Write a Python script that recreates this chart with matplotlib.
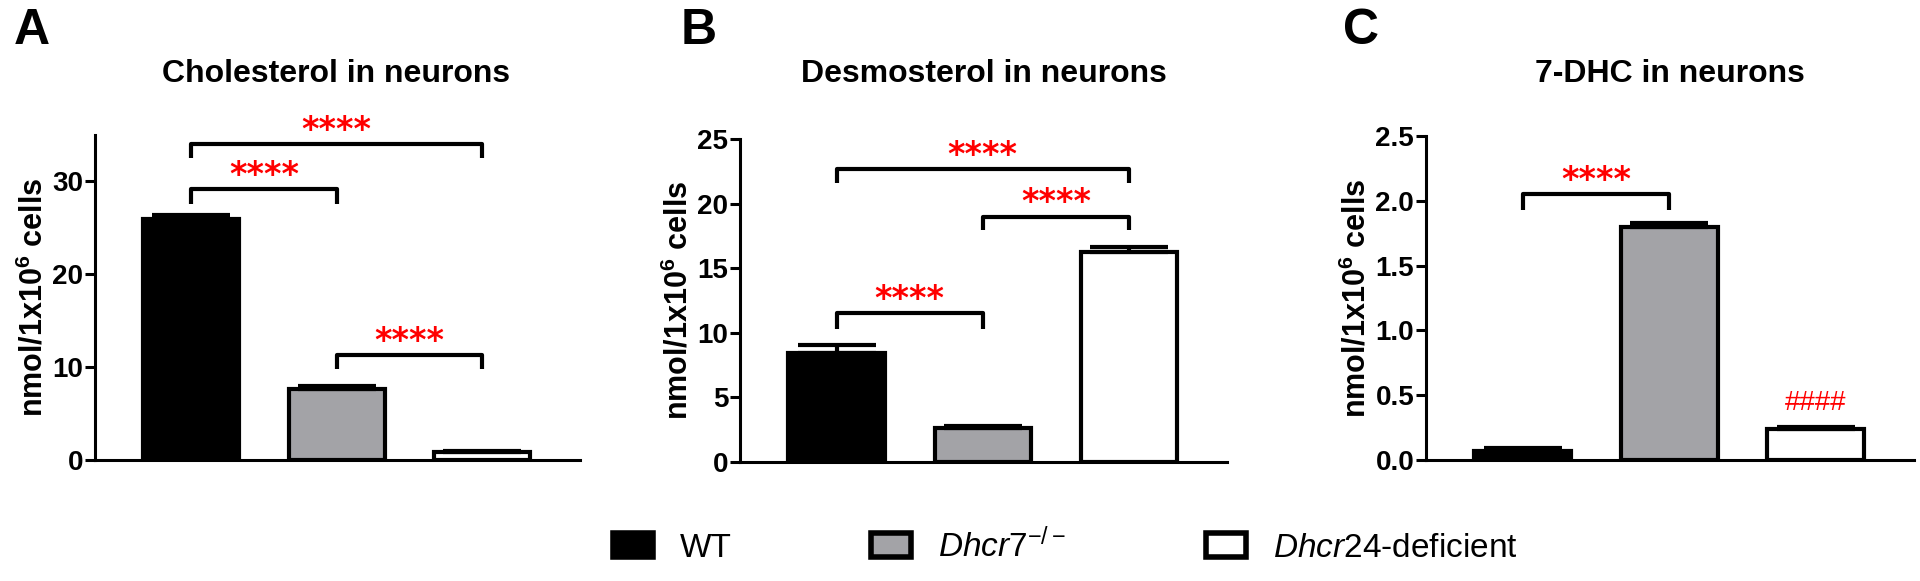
import matplotlib.pyplot as plt
from matplotlib.patches import Patch
import numpy as np

plt.rcParams['font.family'] = ['Liberation Sans', 'DejaVu Sans']
plt.rcParams['mathtext.fontset'] = 'custom'
plt.rcParams['mathtext.rm'] = 'Liberation Sans'
plt.rcParams['mathtext.it'] = 'Liberation Sans:italic'
plt.rcParams['mathtext.bf'] = 'Liberation Sans:bold'

groups = ['WT', r'$\mathit{Dhcr7}^{-/-}$', r'$\mathit{Dhcr24}$-deficient']
fills = ['black', '#a3a3a7', 'white']

chol_mean = [26.0, 7.7, 0.9]
chol_sem = [0.4, 0.25, 0.06]
desmo_mean = [8.45, 2.6, 16.25]
desmo_sem = [0.6, 0.2, 0.4]
dhc_mean = [0.07, 1.80, 0.24]
dhc_sem = [0.02, 0.03, 0.015]

# brackets: (group i, group j, bracket y, leg bottom y)
chol_brackets = [(0, 1, 29.2, 27.6), (0, 2, 34.0, 32.5), (1, 2, 11.3, 9.75)]
desmo_brackets = [(0, 1, 11.5, 10.3), (0, 2, 22.7, 21.6), (1, 2, 19.0, 17.95)]
dhc_brackets = [(0, 1, 2.05, 1.93)]

panels = [
    ('A', 'Cholesterol in neurons', chol_mean, chol_sem, chol_brackets,
     [0, 10, 20, 30], 35, '%d'),
    ('B', 'Desmosterol in neurons', desmo_mean, desmo_sem, desmo_brackets,
     [0, 5, 10, 15, 20, 25], 25, '%d'),
    ('C', '7-DHC in neurons', dhc_mean, dhc_sem, dhc_brackets,
     [0, 0.5, 1.0, 1.5, 2.0, 2.5], 2.5, '%.1f'),
]

W, H = 1920, 581
# axes boxes in pixels: left, right, bottom, top
boxes = [(95, 580, 460, 135), (740, 1227, 462, 139), (1426, 1914, 460, 136)]
letter_x = [14, 681, 1343]
title_x = [336, 984, 1670]

fig = plt.figure(figsize=(W / 100, H / 100), dpi=100)

x = np.arange(3)
for k, (letter, title, mean, sem, brackets, yticks, ytop, fmt) in enumerate(panels):
    l, r, b, t = boxes[k]
    ax = fig.add_axes([l / W, 1 - b / H, (r - l) / W, (b - t) / H])
    ax.bar(x, mean, width=0.66, color=fills, edgecolor='black', linewidth=3, zorder=2)
    ax.errorbar(x, mean, yerr=[np.zeros(3), sem], fmt='none', ecolor='black',
                elinewidth=3, capsize=28, capthick=3, zorder=3)
    for i, j, yb, yl in brackets:
        ax.plot([i, i, j, j], [yl, yb, yb, yl], color='black', lw=3,
                solid_capstyle='butt', clip_on=False)
        ax.annotate('****', xy=((i + j) / 2, yb), xytext=(0, 3),
                    textcoords='offset points', ha='center', va='baseline',
                    color='red', fontsize=24, fontweight='bold',
                    family='DejaVu Sans', annotation_clip=False)
    ax.set_xlim(-0.66, 2.67)
    ax.set_ylim(0, ytop)
    ax.set_yticks(yticks)
    ax.set_yticklabels([fmt % v for v in yticks], fontsize=20, fontweight='bold')
    ax.set_xticks([])
    for side in ['top', 'right']:
        ax.spines[side].set_visible(False)
    for side in ['left', 'bottom']:
        ax.spines[side].set_linewidth(2.2)
    ax.tick_params(axis='y', length=7, width=2.2, pad=1.5)
    ax.set_ylabel(r'nmol/1x10$^{\mathbf{6}}$ cells', fontsize=22, fontweight='bold',
                  labelpad=2)
    fig.text(letter_x[k] / W, 1 - 44 / H, letter, fontsize=36, fontweight='bold',
             ha='left', va='baseline')
    fig.text(title_x[k] / W, 1 - 82 / H, title, fontsize=23, fontweight='bold',
             ha='center', va='baseline')
    if letter == 'C':
        ax.text(2, 0.44, '####', color='red', fontsize=20, ha='center', va='center')

handles = [Patch(facecolor=c, edgecolor='black', linewidth=4) for c in fills]
fig.legend(handles, groups, loc='center', bbox_to_anchor=(1065 / W, 1 - 546 / H),
           ncol=3, frameon=False, fontsize=24, handlelength=1.2, handleheight=0.75,
           handletextpad=0.8, columnspacing=4.2)

fig.savefig('out.png', dpi=100)
